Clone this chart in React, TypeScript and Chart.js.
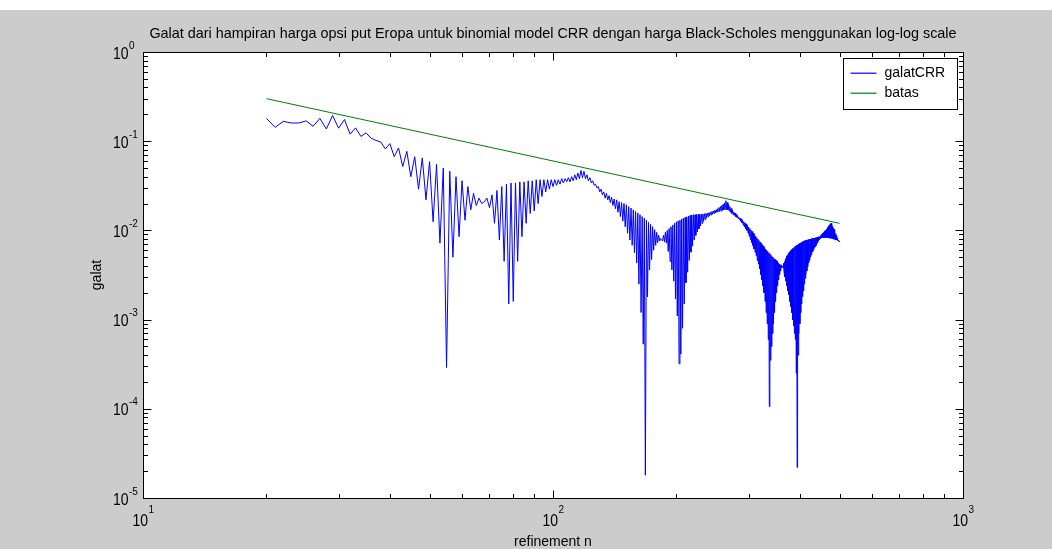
import React, { useEffect, useRef } from "react";
import { Chart, registerables } from "chart.js";

Chart.register(...registerables);

const chartTitle =
  "Galat dari hampiran harga opsi put Eropa untuk binomial model CRR dengan harga Black-Scholes menggunakan log-log scale";
const xAxisTitle = "refinement n";
const yAxisTitle = "galat";
const seriesNames = ["galatCRR", "batas"];
const seriesColors = ["rgb(0,0,255)", "rgb(0,128,0)"];
const xTickExponents = [1, 2, 3];
const yTickExponents = [0, -1, -2, -3, -4, -5];

// galatCRR, n = 20 .. 500 (one value per n)
const firstN = 20;
const galatN20to69 = [
  0.18, 0.143, 0.167, 0.16, 0.16, 0.169, 0.147, 0.18, 0.137, 0.194,
  0.14, 0.175, 0.12, 0.141, 0.113, 0.124, 0.108, 0.102, 0.098, 0.082,
  0.094, 0.067, 0.084, 0.052, 0.077, 0.04, 0.067, 0.029, 0.065, 0.022,
  0.059, 0.0125, 0.055, 0.0072, 0.05, 0.00029, 0.046, 0.005, 0.04, 0.0085,
  0.036, 0.013, 0.031, 0.017, 0.026, 0.019, 0.023, 0.02, 0.021, 0.023,
];
const galatN70to129 = [
  0.018, 0.025, 0.012, 0.028, 0.0078, 0.031, 0.0045, 0.033, 0.0015, 0.034,
  0.0016, 0.034, 0.0045, 0.035, 0.0085, 0.035, 0.012, 0.036, 0.0155, 0.036,
  0.0165, 0.037, 0.02, 0.037, 0.024, 0.037, 0.027, 0.037, 0.029, 0.037,
  0.031, 0.037, 0.032, 0.037, 0.033, 0.038, 0.034, 0.038, 0.035, 0.039,
  0.035, 0.04, 0.036, 0.042, 0.037, 0.044, 0.038, 0.047, 0.039, 0.046,
  0.038, 0.042, 0.036, 0.039, 0.034, 0.036, 0.032, 0.033, 0.03, 0.031,
];
const galatN130to199 = [
  0.027, 0.029, 0.025, 0.027, 0.023, 0.026, 0.022, 0.0245, 0.0205, 0.0235,
  0.019, 0.0225, 0.0175, 0.022, 0.016, 0.021, 0.0143, 0.0205, 0.0127, 0.02,
  0.011, 0.0194, 0.0093, 0.0185, 0.0078, 0.0178, 0.0068, 0.017, 0.0056, 0.0163,
  0.0043, 0.0157, 0.0025, 0.015, 0.0012, 0.0143, 0.00053, 0.0137, 0.000018, 0.013,
  0.0018, 0.0123, 0.0036, 0.0117, 0.0047, 0.011, 0.006, 0.0102, 0.0068, 0.0095,
  0.0073, 0.0088, 0.0076, 0.0081, 0.0079, 0.0076, 0.0088, 0.0074, 0.0095, 0.0072,
  0.01, 0.0058, 0.0105, 0.0045, 0.011, 0.0036, 0.0115, 0.0027, 0.012, 0.0017,
];
const galatN200to299 = [
  0.0125, 0.0011, 0.0128, 0.00032, 0.013, 0.00041, 0.0134, 0.0008, 0.0137, 0.0015,
  0.014, 0.0026, 0.0142, 0.0034, 0.0145, 0.0046, 0.0147, 0.0057, 0.0149, 0.0067,
  0.015, 0.0078, 0.015, 0.0088, 0.0151, 0.0096, 0.0151, 0.0104, 0.0152, 0.0112,
  0.0152, 0.012, 0.0153, 0.0127, 0.0154, 0.0133, 0.0155, 0.0138, 0.0156, 0.0143,
  0.0158, 0.0146, 0.016, 0.0149, 0.0163, 0.0152, 0.0165, 0.0155, 0.0168, 0.0158,
  0.017, 0.016, 0.0175, 0.0163, 0.018, 0.0164, 0.0185, 0.0165, 0.019, 0.0168,
  0.0195, 0.017, 0.0203, 0.0172, 0.0215, 0.0172, 0.0205, 0.017, 0.0195, 0.0165,
  0.0185, 0.016, 0.0176, 0.0155, 0.0168, 0.015, 0.0161, 0.0147, 0.0156, 0.0143,
  0.015, 0.014, 0.0145, 0.0136, 0.014, 0.0132, 0.0137, 0.0127, 0.0133, 0.0121,
  0.0129, 0.0115, 0.0125, 0.0109, 0.0121, 0.0104, 0.0117, 0.01, 0.0113, 0.0093,
];
const galatN300to399 = [
  0.0109, 0.0086, 0.0105, 0.0079, 0.0101, 0.0073, 0.0097, 0.0068, 0.0093, 0.0062,
  0.009, 0.0057, 0.0086, 0.0052, 0.0083, 0.0046, 0.008, 0.0042, 0.0077, 0.0037,
  0.0074, 0.0032, 0.0071, 0.0028, 0.0068, 0.0024, 0.0066, 0.002, 0.0064, 0.0016,
  0.0062, 0.0012, 0.006, 0.0009, 0.0058, 0.0006, 0.0056, 0.000106, 0.0055, 0.00035,
  0.0053, 0.0005, 0.0051, 0.0007, 0.005, 0.0009, 0.0048, 0.0012, 0.0047, 0.0016,
  0.0046, 0.002, 0.0045, 0.0024, 0.0043, 0.0028, 0.0042, 0.0032, 0.0041, 0.0035,
  0.0041, 0.0038, 0.004, 0.004, 0.0038, 0.0043, 0.0034, 0.0045, 0.003, 0.0048,
  0.0027, 0.0051, 0.0024, 0.0053, 0.0021, 0.0055, 0.0019, 0.0057, 0.0016, 0.0059,
  0.0014, 0.006, 0.0012, 0.0062, 0.001, 0.0063, 0.00085, 0.0064, 0.0007, 0.0066,
  0.0006, 0.0067, 0.00025, 0.0068, 0.000022, 0.0069, 0.0004, 0.007, 0.0007, 0.0071,
];
const galatN400to500 = [
  0.0009, 0.0072, 0.0012, 0.0073, 0.0015, 0.0074, 0.0018, 0.0075, 0.0021, 0.0076,
  0.0025, 0.0077, 0.0029, 0.0077, 0.0032, 0.0078, 0.0035, 0.0078, 0.0039, 0.0079,
  0.0043, 0.0079, 0.0046, 0.008, 0.005, 0.008, 0.0053, 0.0081, 0.0056, 0.0081,
  0.0058, 0.0081, 0.0061, 0.0082, 0.0064, 0.0082, 0.0066, 0.0083, 0.0068, 0.0083,
  0.007, 0.0084, 0.0073, 0.0084, 0.0076, 0.0085, 0.0079, 0.0085, 0.0081, 0.0087,
  0.0082, 0.0089, 0.0083, 0.0091, 0.0083, 0.0093, 0.0083, 0.0095, 0.0083, 0.0097,
  0.0083, 0.0099, 0.0083, 0.0101, 0.0083, 0.0104, 0.0083, 0.0107, 0.0083, 0.011,
  0.0082, 0.0113, 0.0082, 0.0116, 0.0082, 0.0119, 0.0082, 0.012, 0.0081, 0.0116,
  0.0081, 0.0111, 0.008, 0.0106, 0.008, 0.0102, 0.0079, 0.0097, 0.0079, 0.0092,
  0.0078, 0.0087, 0.0078, 0.0082, 0.0077, 0.0079, 0.0076, 0.0077, 0.0076, 0.0076,
  0.0075,
];

// batas: straight line on log-log axes
const batasN = [20, 500];
const batasValues = [0.3, 0.012];

const FONT = '"Liberation Sans", Arial, Helvetica, sans-serif';

function textAt(
  ctx: CanvasRenderingContext2D,
  text: string,
  x: number,
  y: number,
  sy: number
) {
  ctx.save();
  ctx.translate(x, y);
  ctx.scale(1, sy);
  ctx.fillText(text, 0, 0);
  ctx.restore();
}

function drawPower(
  ctx: CanvasRenderingContext2D,
  exp: number,
  x: number,
  baseY: number,
  supY: number,
  mode: "right" | "center"
) {
  const base = "10";
  const sup = String(exp);
  const sy = 1.15;
  ctx.font = `14px ${FONT}`;
  const wb = ctx.measureText(base).width;
  ctx.font = `10px ${FONT}`;
  const ws = ctx.measureText(sup).width;
  const left = mode === "right" ? x - wb : x - (wb + ws) / 2;
  ctx.textAlign = "left";
  ctx.textBaseline = "alphabetic";
  ctx.font = `14px ${FONT}`;
  textAt(ctx, base, left, baseY, sy);
  ctx.font = `10px ${FONT}`;
  textAt(ctx, sup, left + wb + 0.5, supY, sy);
}

const matlabPlugin = {
  id: "matlabFigure",
  beforeDraw(chart: any) {
    const { ctx, width, height, chartArea: a } = chart;
    ctx.save();
    ctx.fillStyle = "#ffffff";
    ctx.fillRect(0, 0, width, height);
    ctx.fillStyle = "rgb(204,204,204)";
    ctx.fillRect(0, 10, width, height - 10);
    ctx.fillStyle = "#ffffff";
    ctx.fillRect(a.left, a.top, a.right - a.left, a.bottom - a.top);
    ctx.restore();
  },
  afterDraw(chart: any) {
    const { ctx, chartArea: a } = chart;
    const xs = chart.scales.x;
    const ys = chart.scales.y;
    const L = Math.floor(a.left) + 0.5;
    const R = Math.floor(a.right) + 0.5;
    const T = Math.floor(a.top) + 0.5;
    const B = Math.floor(a.bottom) + 0.5;
    const major = 8;
    const minor = 4.5;
    ctx.save();
    ctx.strokeStyle = "#000";
    ctx.lineWidth = 1;
    ctx.beginPath();
    // x ticks (bottom and top)
    const xLast = xTickExponents[xTickExponents.length - 1];
    for (let e = xTickExponents[0]; e <= xLast; e++) {
      for (let m = 1; m <= 9; m++) {
        if (e === xLast && m > 1) break;
        const v = m * Math.pow(10, e);
        const px = Math.round(xs.getPixelForValue(v)) + 0.5;
        const len = m === 1 ? major : minor;
        ctx.moveTo(px, B);
        ctx.lineTo(px, B - len);
        ctx.moveTo(px, T);
        ctx.lineTo(px, T + len);
      }
    }
    // y ticks (left and right)
    const yMin = Math.min(...yTickExponents);
    const yMax = Math.max(...yTickExponents);
    for (let e = yMin; e <= yMax; e++) {
      for (let m = 1; m <= 9; m++) {
        if (e === yMax && m > 1) break;
        const v = m * Math.pow(10, e);
        const py = Math.round(ys.getPixelForValue(v)) + 0.5;
        const len = m === 1 ? major : minor;
        ctx.moveTo(L, py);
        ctx.lineTo(L + len, py);
        ctx.moveTo(R, py);
        ctx.lineTo(R - len, py);
      }
    }
    ctx.stroke();
    ctx.strokeRect(L, T, R - L, B - T);

    // tick labels
    ctx.fillStyle = "#000";
    for (const e of xTickExponents) {
      const px = xs.getPixelForValue(Math.pow(10, e));
      drawPower(ctx, e, px, B + 27, B + 14, "center");
    }
    for (const e of yTickExponents) {
      const py = ys.getPixelForValue(Math.pow(10, e));
      drawPower(ctx, e, L - 15, py + 6.5, py - 3.5, "right");
    }

    // title and axis titles
    const cx = (a.left + a.right) / 2;
    ctx.textAlign = "center";
    ctx.textBaseline = "alphabetic";
    ctx.font = `14.4px ${FONT}`;
    ctx.fillText(chartTitle, cx, 38);
    ctx.font = `14px ${FONT}`;
    ctx.fillText(xAxisTitle, cx, 546);
    ctx.save();
    ctx.translate(97, (a.top + a.bottom) / 2);
    ctx.rotate(-Math.PI / 2);
    ctx.textBaseline = "middle";
    ctx.fillText(yAxisTitle, 0, 0);
    ctx.restore();

    // legend box
    const lx = Math.floor(a.right) - 120 + 0.5;
    const ly = Math.floor(a.top) + 6 + 0.5;
    const lw = 114;
    const lh = 51;
    ctx.fillStyle = "#fff";
    ctx.fillRect(lx, ly, lw, lh);
    ctx.strokeStyle = "#000";
    ctx.strokeRect(lx, ly, lw, lh);
    seriesNames.forEach((name, i) => {
      const yy = Math.floor(ly + 15 + i * 20) + 0.5;
      ctx.strokeStyle = seriesColors[i];
      ctx.lineWidth = 1.2;
      ctx.beginPath();
      ctx.moveTo(lx + 7, yy - 0.3);
      ctx.lineTo(lx + 33, yy - 0.3);
      ctx.stroke();
      ctx.fillStyle = "#000";
      ctx.font = `14px ${FONT}`;
      ctx.textAlign = "left";
      ctx.textBaseline = "middle";
      ctx.fillText(name, lx + 41, yy);
    });
    ctx.restore();
  },
};

export default function App() {
  const canvasRef = useRef<HTMLCanvasElement | null>(null);

  useEffect(() => {
    document.body.style.margin = "0";
    const canvas = canvasRef.current;
    if (!canvas) return;
    const galatValues = [
      ...galatN20to69,
      ...galatN70to129,
      ...galatN130to199,
      ...galatN200to299,
      ...galatN300to399,
      ...galatN400to500,
    ];
    const galatPoints = galatValues.map((y, i) => ({ x: firstN + i, y }));
    const batasPoints = batasN.map((x, i) => ({ x, y: batasValues[i] }));

    const chart = new Chart(canvas, {
      type: "line",
      data: {
        datasets: [
          {
            label: seriesNames[0],
            data: galatPoints,
            borderColor: seriesColors[0],
            borderWidth: 1,
            pointRadius: 0,
            pointHoverRadius: 0,
            fill: false,
            tension: 0,
          },
          {
            label: seriesNames[1],
            data: batasPoints,
            borderColor: seriesColors[1],
            borderWidth: 1,
            pointRadius: 0,
            pointHoverRadius: 0,
            fill: false,
            tension: 0,
          },
        ],
      },
      options: {
        responsive: false,
        animation: false,
        events: [],
        layout: { padding: { left: 143, top: 52, right: 89, bottom: 51 } },
        scales: {
          x: { type: "logarithmic", min: 10, max: 1000, display: false },
          y: { type: "logarithmic", min: 1e-5, max: 1, display: false },
        },
        plugins: {
          legend: { display: false },
          title: { display: false },
          tooltip: { enabled: false },
        },
      },
      plugins: [matlabPlugin],
    });
    return () => chart.destroy();
  }, []);

  return (
    <canvas
      ref={canvasRef}
      width={1052}
      height={549}
      style={{ display: "block", width: 1052, height: 549 }}
    />
  );
}
